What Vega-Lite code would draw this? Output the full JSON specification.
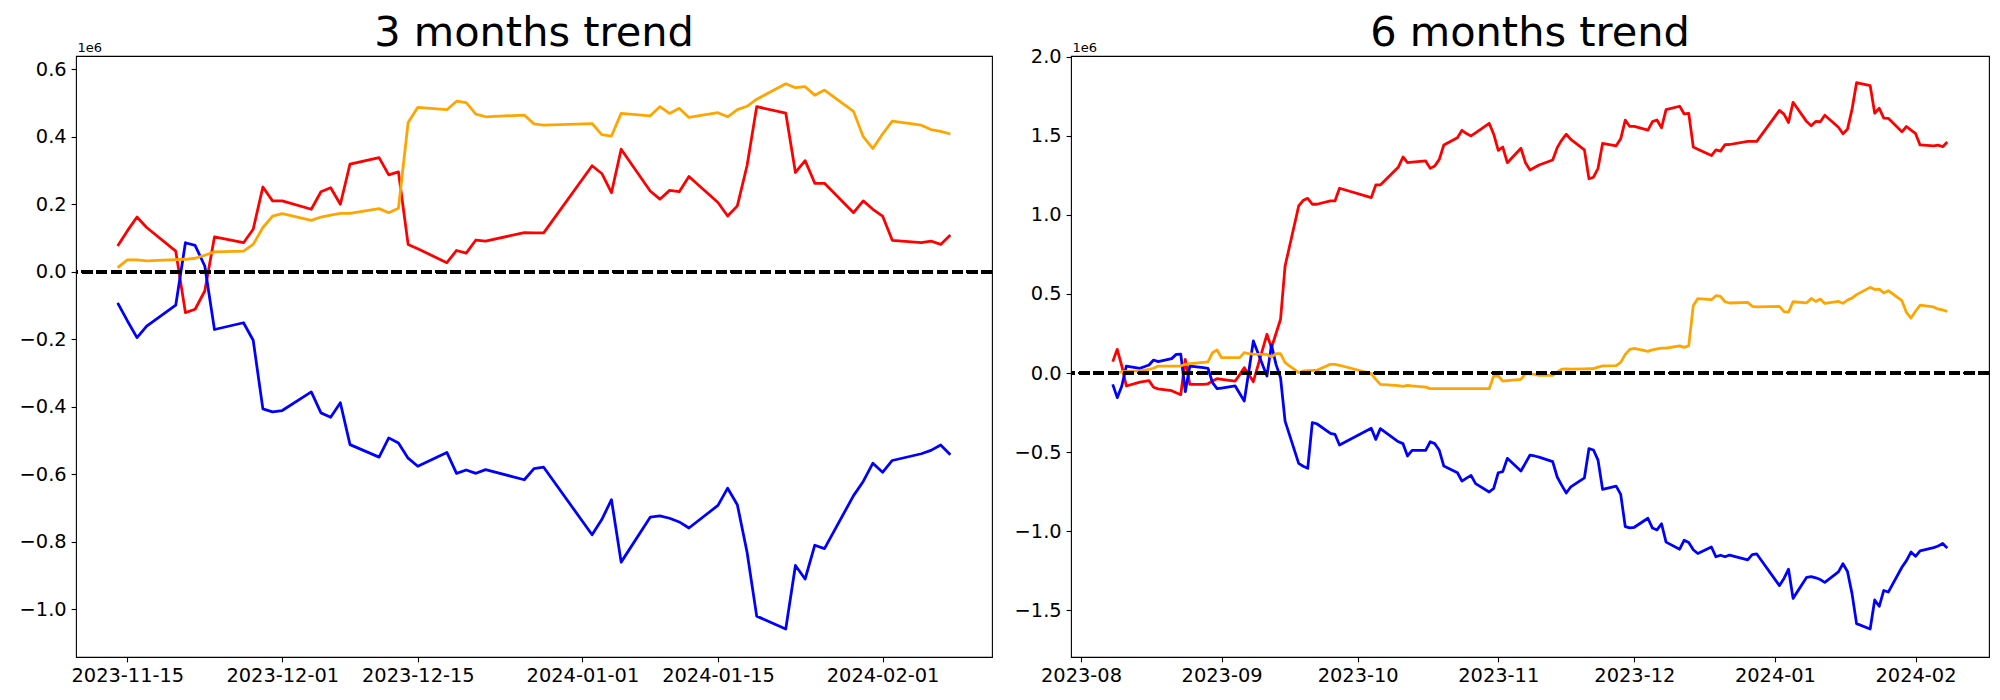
{
"$schema": "https://vega.github.io/schema/vega-lite/v6.json",
"background": "white",
"padding": {"left": 18, "top": 12, "right": 0, "bottom": 0},
"spacing": 19,
"config": {
 "view": {"stroke": "black", "strokeWidth": 1.1},
 "font": "DejaVu Sans",
 "axis": {"domain": false, "grid": false, "tickColor": "black", "tickWidth": 1.1, "tickSize": 4.9, "labelFont": "DejaVu Sans", "labelFontSize": 19.4, "labelColor": "black", "labelPadding": 4.9, "labelFlush": false, "labelOverlap": false, "labelBound": false},
 "title": {"font": "DejaVu Sans", "fontSize": 41.5, "fontWeight": "normal", "color": "black", "anchor": "middle", "frame": "group", "baseline": "alphabetic", "offset": -13}
},
"datasets": {
"m3": [
{"date":"2023-11-14","series":"red","value":76000},{"date":"2023-11-15","series":"red","value":121000},{"date":"2023-11-16","series":"red","value":162000},{"date":"2023-11-17","series":"red","value":131000},{"date":"2023-11-20","series":"red","value":61000},{"date":"2023-11-21","series":"red","value":-121000},{"date":"2023-11-22","series":"red","value":-111000},{"date":"2023-11-23","series":"red","value":-57000},{"date":"2023-11-24","series":"red","value":103000},{"date":"2023-11-27","series":"red","value":86000},{"date":"2023-11-28","series":"red","value":126000},{"date":"2023-11-29","series":"red","value":251000},{"date":"2023-11-30","series":"red","value":210000},{"date":"2023-12-01","series":"red","value":210000},{"date":"2023-12-04","series":"red","value":185000},{"date":"2023-12-05","series":"red","value":237000},{"date":"2023-12-06","series":"red","value":249000},{"date":"2023-12-07","series":"red","value":200000},{"date":"2023-12-08","series":"red","value":319000},{"date":"2023-12-11","series":"red","value":338000},{"date":"2023-12-12","series":"red","value":287000},{"date":"2023-12-13","series":"red","value":296000},{"date":"2023-12-14","series":"red","value":81000},{"date":"2023-12-15","series":"red","value":68000},{"date":"2023-12-18","series":"red","value":27000},{"date":"2023-12-19","series":"red","value":63000},{"date":"2023-12-20","series":"red","value":55000},{"date":"2023-12-21","series":"red","value":94000},{"date":"2023-12-22","series":"red","value":91000},{"date":"2023-12-26","series":"red","value":116000},{"date":"2023-12-27","series":"red","value":115000},{"date":"2023-12-28","series":"red","value":115000},{"date":"2024-01-02","series":"red","value":314000},{"date":"2024-01-03","series":"red","value":291000},{"date":"2024-01-04","series":"red","value":234000},{"date":"2024-01-05","series":"red","value":363000},{"date":"2024-01-08","series":"red","value":239000},{"date":"2024-01-09","series":"red","value":215000},{"date":"2024-01-10","series":"red","value":241000},{"date":"2024-01-11","series":"red","value":237000},{"date":"2024-01-12","series":"red","value":282000},{"date":"2024-01-15","series":"red","value":205000},{"date":"2024-01-16","series":"red","value":165000},{"date":"2024-01-17","series":"red","value":195000},{"date":"2024-01-18","series":"red","value":314000},{"date":"2024-01-19","series":"red","value":489000},{"date":"2024-01-22","series":"red","value":470000},{"date":"2024-01-23","series":"red","value":294000},{"date":"2024-01-24","series":"red","value":329000},{"date":"2024-01-25","series":"red","value":262000},{"date":"2024-01-26","series":"red","value":262000},{"date":"2024-01-29","series":"red","value":175000},{"date":"2024-01-30","series":"red","value":210000},{"date":"2024-01-31","series":"red","value":185000},{"date":"2024-02-01","series":"red","value":165000},{"date":"2024-02-02","series":"red","value":93000},{"date":"2024-02-05","series":"red","value":86000},{"date":"2024-02-06","series":"red","value":91000},{"date":"2024-02-07","series":"red","value":81000},{"date":"2024-02-08","series":"red","value":109000},
{"date":"2023-11-14","series":"blue","value":-92000},{"date":"2023-11-15","series":"blue","value":-145000},{"date":"2023-11-16","series":"blue","value":-195000},{"date":"2023-11-17","series":"blue","value":-161000},{"date":"2023-11-20","series":"blue","value":-99000},{"date":"2023-11-21","series":"blue","value":86000},{"date":"2023-11-22","series":"blue","value":78000},{"date":"2023-11-23","series":"blue","value":17000},{"date":"2023-11-24","series":"blue","value":-171000},{"date":"2023-11-27","series":"blue","value":-151000},{"date":"2023-11-28","series":"blue","value":-203000},{"date":"2023-11-29","series":"blue","value":-406000},{"date":"2023-11-30","series":"blue","value":-415000},{"date":"2023-12-01","series":"blue","value":-411000},{"date":"2023-12-04","series":"blue","value":-356000},{"date":"2023-12-05","series":"blue","value":-418000},{"date":"2023-12-06","series":"blue","value":-431000},{"date":"2023-12-07","series":"blue","value":-388000},{"date":"2023-12-08","series":"blue","value":-512000},{"date":"2023-12-11","series":"blue","value":-549000},{"date":"2023-12-12","series":"blue","value":-492000},{"date":"2023-12-13","series":"blue","value":-507000},{"date":"2023-12-14","series":"blue","value":-552000},{"date":"2023-12-15","series":"blue","value":-576000},{"date":"2023-12-18","series":"blue","value":-535000},{"date":"2023-12-19","series":"blue","value":-597000},{"date":"2023-12-20","series":"blue","value":-587000},{"date":"2023-12-21","series":"blue","value":-597000},{"date":"2023-12-22","series":"blue","value":-586000},{"date":"2023-12-26","series":"blue","value":-616000},{"date":"2023-12-27","series":"blue","value":-583000},{"date":"2023-12-28","series":"blue","value":-579000},{"date":"2024-01-02","series":"blue","value":-779000},{"date":"2024-01-03","series":"blue","value":-734000},{"date":"2024-01-04","series":"blue","value":-675000},{"date":"2024-01-05","series":"blue","value":-860000},{"date":"2024-01-08","series":"blue","value":-727000},{"date":"2024-01-09","series":"blue","value":-723000},{"date":"2024-01-10","series":"blue","value":-730000},{"date":"2024-01-11","series":"blue","value":-741000},{"date":"2024-01-12","series":"blue","value":-759000},{"date":"2024-01-15","series":"blue","value":-692000},{"date":"2024-01-16","series":"blue","value":-641000},{"date":"2024-01-17","series":"blue","value":-690000},{"date":"2024-01-18","series":"blue","value":-830000},{"date":"2024-01-19","series":"blue","value":-1020000},{"date":"2024-01-22","series":"blue","value":-1058000},{"date":"2024-01-23","series":"blue","value":-870000},{"date":"2024-01-24","series":"blue","value":-910000},{"date":"2024-01-25","series":"blue","value":-810000},{"date":"2024-01-26","series":"blue","value":-820000},{"date":"2024-01-29","series":"blue","value":-663000},{"date":"2024-01-30","series":"blue","value":-621000},{"date":"2024-01-31","series":"blue","value":-567000},{"date":"2024-02-01","series":"blue","value":-594000},{"date":"2024-02-02","series":"blue","value":-559000},{"date":"2024-02-05","series":"blue","value":-539000},{"date":"2024-02-06","series":"blue","value":-529000},{"date":"2024-02-07","series":"blue","value":-513000},{"date":"2024-02-08","series":"blue","value":-542000},
{"date":"2023-11-14","series":"orange","value":12000},{"date":"2023-11-15","series":"orange","value":35000},{"date":"2023-11-16","series":"orange","value":35000},{"date":"2023-11-17","series":"orange","value":32000},{"date":"2023-11-20","series":"orange","value":36000},{"date":"2023-11-21","series":"orange","value":37000},{"date":"2023-11-22","series":"orange","value":40000},{"date":"2023-11-23","series":"orange","value":49000},{"date":"2023-11-24","series":"orange","value":59000},{"date":"2023-11-27","series":"orange","value":61000},{"date":"2023-11-28","series":"orange","value":81000},{"date":"2023-11-29","series":"orange","value":131000},{"date":"2023-11-30","series":"orange","value":165000},{"date":"2023-12-01","series":"orange","value":172000},{"date":"2023-12-04","series":"orange","value":152000},{"date":"2023-12-05","series":"orange","value":162000},{"date":"2023-12-06","series":"orange","value":168000},{"date":"2023-12-07","series":"orange","value":173000},{"date":"2023-12-08","series":"orange","value":173000},{"date":"2023-12-11","series":"orange","value":187000},{"date":"2023-12-12","series":"orange","value":175000},{"date":"2023-12-13","series":"orange","value":188000},{"date":"2023-12-14","series":"orange","value":442000},{"date":"2023-12-15","series":"orange","value":487000},{"date":"2023-12-18","series":"orange","value":480000},{"date":"2023-12-19","series":"orange","value":505000},{"date":"2023-12-20","series":"orange","value":501000},{"date":"2023-12-21","series":"orange","value":467000},{"date":"2023-12-22","series":"orange","value":459000},{"date":"2023-12-26","series":"orange","value":464000},{"date":"2023-12-27","series":"orange","value":438000},{"date":"2023-12-28","series":"orange","value":434000},{"date":"2024-01-02","series":"orange","value":439000},{"date":"2024-01-03","series":"orange","value":406000},{"date":"2024-01-04","series":"orange","value":402000},{"date":"2024-01-05","series":"orange","value":469000},{"date":"2024-01-08","series":"orange","value":462000},{"date":"2024-01-09","series":"orange","value":489000},{"date":"2024-01-10","series":"orange","value":469000},{"date":"2024-01-11","series":"orange","value":484000},{"date":"2024-01-12","series":"orange","value":457000},{"date":"2024-01-15","series":"orange","value":471000},{"date":"2024-01-16","series":"orange","value":459000},{"date":"2024-01-17","series":"orange","value":480000},{"date":"2024-01-18","series":"orange","value":490000},{"date":"2024-01-19","series":"orange","value":511000},{"date":"2024-01-22","series":"orange","value":557000},{"date":"2024-01-23","series":"orange","value":545000},{"date":"2024-01-24","series":"orange","value":548000},{"date":"2024-01-25","series":"orange","value":523000},{"date":"2024-01-26","series":"orange","value":538000},{"date":"2024-01-29","series":"orange","value":475000},{"date":"2024-01-30","series":"orange","value":400000},{"date":"2024-01-31","series":"orange","value":365000},{"date":"2024-02-01","series":"orange","value":408000},{"date":"2024-02-02","series":"orange","value":446000},{"date":"2024-02-05","series":"orange","value":434000},{"date":"2024-02-06","series":"orange","value":421000},{"date":"2024-02-07","series":"orange","value":416000},{"date":"2024-02-08","series":"orange","value":408000}
],
"m6": [
{"date":"2023-08-08","series":"red","value":72000},{"date":"2023-08-09","series":"red","value":150000},{"date":"2023-08-10","series":"red","value":44000},{"date":"2023-08-11","series":"red","value":-82000},{"date":"2023-08-14","series":"red","value":-58000},{"date":"2023-08-16","series":"red","value":-48000},{"date":"2023-08-17","series":"red","value":-90000},{"date":"2023-08-18","series":"red","value":-100000},{"date":"2023-08-21","series":"red","value":-112000},{"date":"2023-08-22","series":"red","value":-125000},{"date":"2023-08-23","series":"red","value":-137000},{"date":"2023-08-24","series":"red","value":86000},{"date":"2023-08-25","series":"red","value":-72000},{"date":"2023-08-28","series":"red","value":-72000},{"date":"2023-08-29","series":"red","value":-68000},{"date":"2023-08-30","series":"red","value":-50000},{"date":"2023-08-31","series":"red","value":-36000},{"date":"2023-09-01","series":"red","value":-40000},{"date":"2023-09-04","series":"red","value":-51000},{"date":"2023-09-05","series":"red","value":-10000},{"date":"2023-09-06","series":"red","value":34000},{"date":"2023-09-07","series":"red","value":-10000},{"date":"2023-09-08","series":"red","value":-55000},{"date":"2023-09-11","series":"red","value":245000},{"date":"2023-09-12","series":"red","value":160000},{"date":"2023-09-13","series":"red","value":250000},{"date":"2023-09-14","series":"red","value":340000},{"date":"2023-09-15","series":"red","value":677000},{"date":"2023-09-18","series":"red","value":1057000},{"date":"2023-09-19","series":"red","value":1093000},{"date":"2023-09-20","series":"red","value":1105000},{"date":"2023-09-21","series":"red","value":1068000},{"date":"2023-09-22","series":"red","value":1068000},{"date":"2023-09-25","series":"red","value":1089000},{"date":"2023-09-26","series":"red","value":1089000},{"date":"2023-09-27","series":"red","value":1169000},{"date":"2023-10-04","series":"red","value":1110000},{"date":"2023-10-05","series":"red","value":1190000},{"date":"2023-10-06","series":"red","value":1190000},{"date":"2023-10-10","series":"red","value":1304000},{"date":"2023-10-11","series":"red","value":1367000},{"date":"2023-10-12","series":"red","value":1331000},{"date":"2023-10-13","series":"red","value":1335000},{"date":"2023-10-16","series":"red","value":1342000},{"date":"2023-10-17","series":"red","value":1295000},{"date":"2023-10-18","series":"red","value":1310000},{"date":"2023-10-19","series":"red","value":1352000},{"date":"2023-10-20","series":"red","value":1443000},{"date":"2023-10-23","series":"red","value":1489000},{"date":"2023-10-24","series":"red","value":1536000},{"date":"2023-10-25","series":"red","value":1515000},{"date":"2023-10-26","series":"red","value":1500000},{"date":"2023-10-27","series":"red","value":1520000},{"date":"2023-10-30","series":"red","value":1580000},{"date":"2023-10-31","series":"red","value":1511000},{"date":"2023-11-01","series":"red","value":1409000},{"date":"2023-11-02","series":"red","value":1430000},{"date":"2023-11-03","series":"red","value":1331000},{"date":"2023-11-06","series":"red","value":1422000},{"date":"2023-11-07","series":"red","value":1331000},{"date":"2023-11-08","series":"red","value":1285000},{"date":"2023-11-09","series":"red","value":1300000},{"date":"2023-11-10","series":"red","value":1316000},{"date":"2023-11-13","series":"red","value":1348000},{"date":"2023-11-14","series":"red","value":1426000},{"date":"2023-11-15","series":"red","value":1474000},{"date":"2023-11-16","series":"red","value":1511000},{"date":"2023-11-17","series":"red","value":1478000},{"date":"2023-11-20","series":"red","value":1412000},{"date":"2023-11-21","series":"red","value":1229000},{"date":"2023-11-22","series":"red","value":1239000},{"date":"2023-11-23","series":"red","value":1295000},{"date":"2023-11-24","series":"red","value":1453000},{"date":"2023-11-27","series":"red","value":1438000},{"date":"2023-11-28","series":"red","value":1482000},{"date":"2023-11-29","series":"red","value":1600000},{"date":"2023-11-30","series":"red","value":1560000},{"date":"2023-12-01","series":"red","value":1561000},{"date":"2023-12-04","series":"red","value":1537000},{"date":"2023-12-05","series":"red","value":1591000},{"date":"2023-12-06","series":"red","value":1601000},{"date":"2023-12-07","series":"red","value":1552000},{"date":"2023-12-08","series":"red","value":1667000},{"date":"2023-12-11","series":"red","value":1688000},{"date":"2023-12-12","series":"red","value":1639000},{"date":"2023-12-13","series":"red","value":1643000},{"date":"2023-12-14","series":"red","value":1430000},{"date":"2023-12-15","series":"red","value":1416000},{"date":"2023-12-18","series":"red","value":1376000},{"date":"2023-12-19","series":"red","value":1412000},{"date":"2023-12-20","series":"red","value":1404000},{"date":"2023-12-21","series":"red","value":1445000},{"date":"2023-12-22","series":"red","value":1446000},{"date":"2023-12-26","series":"red","value":1466000},{"date":"2023-12-27","series":"red","value":1466000},{"date":"2023-12-28","series":"red","value":1466000},{"date":"2024-01-02","series":"red","value":1662000},{"date":"2024-01-03","series":"red","value":1638000},{"date":"2024-01-04","series":"red","value":1585000},{"date":"2024-01-05","series":"red","value":1713000},{"date":"2024-01-08","series":"red","value":1591000},{"date":"2024-01-09","series":"red","value":1565000},{"date":"2024-01-10","series":"red","value":1592000},{"date":"2024-01-11","series":"red","value":1590000},{"date":"2024-01-12","series":"red","value":1631000},{"date":"2024-01-15","series":"red","value":1555000},{"date":"2024-01-16","series":"red","value":1514000},{"date":"2024-01-17","series":"red","value":1543000},{"date":"2024-01-18","series":"red","value":1668000},{"date":"2024-01-19","series":"red","value":1837000},{"date":"2024-01-22","series":"red","value":1819000},{"date":"2024-01-23","series":"red","value":1644000},{"date":"2024-01-24","series":"red","value":1675000},{"date":"2024-01-25","series":"red","value":1613000},{"date":"2024-01-26","series":"red","value":1612000},{"date":"2024-01-29","series":"red","value":1526000},{"date":"2024-01-30","series":"red","value":1560000},{"date":"2024-01-31","series":"red","value":1537000},{"date":"2024-02-01","series":"red","value":1516000},{"date":"2024-02-02","series":"red","value":1443000},{"date":"2024-02-05","series":"red","value":1437000},{"date":"2024-02-06","series":"red","value":1442000},{"date":"2024-02-07","series":"red","value":1432000},{"date":"2024-02-08","series":"red","value":1462000},
{"date":"2023-08-08","series":"blue","value":-72000},{"date":"2023-08-09","series":"blue","value":-156000},{"date":"2023-08-10","series":"blue","value":-82000},{"date":"2023-08-11","series":"blue","value":44000},{"date":"2023-08-14","series":"blue","value":30000},{"date":"2023-08-16","series":"blue","value":51000},{"date":"2023-08-17","series":"blue","value":82000},{"date":"2023-08-18","series":"blue","value":72000},{"date":"2023-08-21","series":"blue","value":91000},{"date":"2023-08-22","series":"blue","value":118000},{"date":"2023-08-23","series":"blue","value":120000},{"date":"2023-08-24","series":"blue","value":-118000},{"date":"2023-08-25","series":"blue","value":44000},{"date":"2023-08-28","series":"blue","value":34000},{"date":"2023-08-29","series":"blue","value":30000},{"date":"2023-08-30","series":"blue","value":-61000},{"date":"2023-08-31","series":"blue","value":-99000},{"date":"2023-09-01","series":"blue","value":-95000},{"date":"2023-09-04","series":"blue","value":-82000},{"date":"2023-09-05","series":"blue","value":-130000},{"date":"2023-09-06","series":"blue","value":-177000},{"date":"2023-09-07","series":"blue","value":10000},{"date":"2023-09-08","series":"blue","value":203000},{"date":"2023-09-11","series":"blue","value":-19000},{"date":"2023-09-12","series":"blue","value":177000},{"date":"2023-09-13","series":"blue","value":55000},{"date":"2023-09-14","series":"blue","value":-30000},{"date":"2023-09-15","series":"blue","value":-304000},{"date":"2023-09-18","series":"blue","value":-572000},{"date":"2023-09-19","series":"blue","value":-590000},{"date":"2023-09-20","series":"blue","value":-603000},{"date":"2023-09-21","series":"blue","value":-314000},{"date":"2023-09-22","series":"blue","value":-321000},{"date":"2023-09-25","series":"blue","value":-382000},{"date":"2023-09-26","series":"blue","value":-388000},{"date":"2023-09-27","series":"blue","value":-456000},{"date":"2023-10-04","series":"blue","value":-350000},{"date":"2023-10-05","series":"blue","value":-420000},{"date":"2023-10-06","series":"blue","value":-352000},{"date":"2023-10-10","series":"blue","value":-435000},{"date":"2023-10-11","series":"blue","value":-447000},{"date":"2023-10-12","series":"blue","value":-525000},{"date":"2023-10-13","series":"blue","value":-489000},{"date":"2023-10-16","series":"blue","value":-489000},{"date":"2023-10-17","series":"blue","value":-435000},{"date":"2023-10-18","series":"blue","value":-447000},{"date":"2023-10-19","series":"blue","value":-489000},{"date":"2023-10-20","series":"blue","value":-589000},{"date":"2023-10-23","series":"blue","value":-631000},{"date":"2023-10-24","series":"blue","value":-684000},{"date":"2023-10-25","series":"blue","value":-665000},{"date":"2023-10-26","series":"blue","value":-648000},{"date":"2023-10-27","series":"blue","value":-700000},{"date":"2023-10-30","series":"blue","value":-753000},{"date":"2023-10-31","series":"blue","value":-730000},{"date":"2023-11-01","series":"blue","value":-631000},{"date":"2023-11-02","series":"blue","value":-624000},{"date":"2023-11-03","series":"blue","value":-540000},{"date":"2023-11-06","series":"blue","value":-620000},{"date":"2023-11-07","series":"blue","value":-570000},{"date":"2023-11-08","series":"blue","value":-519000},{"date":"2023-11-09","series":"blue","value":-525000},{"date":"2023-11-10","series":"blue","value":-532000},{"date":"2023-11-13","series":"blue","value":-561000},{"date":"2023-11-14","series":"blue","value":-658000},{"date":"2023-11-15","series":"blue","value":-711000},{"date":"2023-11-16","series":"blue","value":-759000},{"date":"2023-11-17","series":"blue","value":-720000},{"date":"2023-11-20","series":"blue","value":-663000},{"date":"2023-11-21","series":"blue","value":-478000},{"date":"2023-11-22","series":"blue","value":-487000},{"date":"2023-11-23","series":"blue","value":-551000},{"date":"2023-11-24","series":"blue","value":-736000},{"date":"2023-11-27","series":"blue","value":-716000},{"date":"2023-11-28","series":"blue","value":-768000},{"date":"2023-11-29","series":"blue","value":-972000},{"date":"2023-11-30","series":"blue","value":-980000},{"date":"2023-12-01","series":"blue","value":-976000},{"date":"2023-12-04","series":"blue","value":-919000},{"date":"2023-12-05","series":"blue","value":-981000},{"date":"2023-12-06","series":"blue","value":-993000},{"date":"2023-12-07","series":"blue","value":-954000},{"date":"2023-12-08","series":"blue","value":-1070000},{"date":"2023-12-11","series":"blue","value":-1115000},{"date":"2023-12-12","series":"blue","value":-1058000},{"date":"2023-12-13","series":"blue","value":-1073000},{"date":"2023-12-14","series":"blue","value":-1118000},{"date":"2023-12-15","series":"blue","value":-1142000},{"date":"2023-12-18","series":"blue","value":-1101000},{"date":"2023-12-19","series":"blue","value":-1163000},{"date":"2023-12-20","series":"blue","value":-1153000},{"date":"2023-12-21","series":"blue","value":-1163000},{"date":"2023-12-22","series":"blue","value":-1152000},{"date":"2023-12-26","series":"blue","value":-1182000},{"date":"2023-12-27","series":"blue","value":-1149000},{"date":"2023-12-28","series":"blue","value":-1145000},{"date":"2024-01-02","series":"blue","value":-1345000},{"date":"2024-01-03","series":"blue","value":-1300000},{"date":"2024-01-04","series":"blue","value":-1241000},{"date":"2024-01-05","series":"blue","value":-1426000},{"date":"2024-01-08","series":"blue","value":-1293000},{"date":"2024-01-09","series":"blue","value":-1289000},{"date":"2024-01-10","series":"blue","value":-1296000},{"date":"2024-01-11","series":"blue","value":-1307000},{"date":"2024-01-12","series":"blue","value":-1325000},{"date":"2024-01-15","series":"blue","value":-1258000},{"date":"2024-01-16","series":"blue","value":-1207000},{"date":"2024-01-17","series":"blue","value":-1256000},{"date":"2024-01-18","series":"blue","value":-1396000},{"date":"2024-01-19","series":"blue","value":-1586000},{"date":"2024-01-22","series":"blue","value":-1620000},{"date":"2024-01-23","series":"blue","value":-1436000},{"date":"2024-01-24","series":"blue","value":-1476000},{"date":"2024-01-25","series":"blue","value":-1376000},{"date":"2024-01-26","series":"blue","value":-1386000},{"date":"2024-01-29","series":"blue","value":-1229000},{"date":"2024-01-30","series":"blue","value":-1187000},{"date":"2024-01-31","series":"blue","value":-1133000},{"date":"2024-02-01","series":"blue","value":-1160000},{"date":"2024-02-02","series":"blue","value":-1125000},{"date":"2024-02-05","series":"blue","value":-1105000},{"date":"2024-02-06","series":"blue","value":-1095000},{"date":"2024-02-07","series":"blue","value":-1079000},{"date":"2024-02-08","series":"blue","value":-1108000},
{"date":"2023-08-08","series":"orange","value":-4000},{"date":"2023-08-09","series":"orange","value":0},{"date":"2023-08-10","series":"orange","value":8000},{"date":"2023-08-11","series":"orange","value":10000},{"date":"2023-08-14","series":"orange","value":13000},{"date":"2023-08-16","series":"orange","value":23000},{"date":"2023-08-17","series":"orange","value":30000},{"date":"2023-08-18","series":"orange","value":44000},{"date":"2023-08-21","series":"orange","value":44000},{"date":"2023-08-22","series":"orange","value":44000},{"date":"2023-08-23","series":"orange","value":44000},{"date":"2023-08-24","series":"orange","value":55000},{"date":"2023-08-25","series":"orange","value":60000},{"date":"2023-08-28","series":"orange","value":68000},{"date":"2023-08-29","series":"orange","value":70000},{"date":"2023-08-30","series":"orange","value":129000},{"date":"2023-08-31","series":"orange","value":146000},{"date":"2023-09-01","series":"orange","value":97000},{"date":"2023-09-04","series":"orange","value":97000},{"date":"2023-09-05","series":"orange","value":97000},{"date":"2023-09-06","series":"orange","value":129000},{"date":"2023-09-07","series":"orange","value":122000},{"date":"2023-09-08","series":"orange","value":120000},{"date":"2023-09-11","series":"orange","value":118000},{"date":"2023-09-12","series":"orange","value":101000},{"date":"2023-09-13","series":"orange","value":122000},{"date":"2023-09-14","series":"orange","value":122000},{"date":"2023-09-15","series":"orange","value":65000},{"date":"2023-09-18","series":"orange","value":2000},{"date":"2023-09-19","series":"orange","value":13000},{"date":"2023-09-20","series":"orange","value":15000},{"date":"2023-09-21","series":"orange","value":16000},{"date":"2023-09-22","series":"orange","value":17000},{"date":"2023-09-25","series":"orange","value":55000},{"date":"2023-09-26","series":"orange","value":55000},{"date":"2023-09-27","series":"orange","value":49000},{"date":"2023-10-04","series":"orange","value":-4000},{"date":"2023-10-05","series":"orange","value":-40000},{"date":"2023-10-06","series":"orange","value":-72000},{"date":"2023-10-10","series":"orange","value":-80000},{"date":"2023-10-11","series":"orange","value":-85000},{"date":"2023-10-12","series":"orange","value":-78000},{"date":"2023-10-13","series":"orange","value":-82000},{"date":"2023-10-16","series":"orange","value":-89000},{"date":"2023-10-17","series":"orange","value":-99000},{"date":"2023-10-18","series":"orange","value":-99000},{"date":"2023-10-19","series":"orange","value":-99000},{"date":"2023-10-20","series":"orange","value":-99000},{"date":"2023-10-23","series":"orange","value":-99000},{"date":"2023-10-24","series":"orange","value":-99000},{"date":"2023-10-25","series":"orange","value":-99000},{"date":"2023-10-26","series":"orange","value":-99000},{"date":"2023-10-27","series":"orange","value":-99000},{"date":"2023-10-30","series":"orange","value":-99000},{"date":"2023-10-31","series":"orange","value":-19000},{"date":"2023-11-01","series":"orange","value":-19000},{"date":"2023-11-02","series":"orange","value":-51000},{"date":"2023-11-03","series":"orange","value":-48000},{"date":"2023-11-06","series":"orange","value":-40000},{"date":"2023-11-07","series":"orange","value":-4000},{"date":"2023-11-08","series":"orange","value":-6000},{"date":"2023-11-09","series":"orange","value":-8000},{"date":"2023-11-10","series":"orange","value":-15000},{"date":"2023-11-13","series":"orange","value":-15000},{"date":"2023-11-14","series":"orange","value":5000},{"date":"2023-11-15","series":"orange","value":25000},{"date":"2023-11-16","series":"orange","value":26000},{"date":"2023-11-17","series":"orange","value":24000},{"date":"2023-11-20","series":"orange","value":26000},{"date":"2023-11-21","series":"orange","value":27000},{"date":"2023-11-22","series":"orange","value":28000},{"date":"2023-11-23","series":"orange","value":37000},{"date":"2023-11-24","series":"orange","value":45000},{"date":"2023-11-27","series":"orange","value":47000},{"date":"2023-11-28","series":"orange","value":67000},{"date":"2023-11-29","series":"orange","value":118000},{"date":"2023-11-30","series":"orange","value":150000},{"date":"2023-12-01","series":"orange","value":156000},{"date":"2023-12-04","series":"orange","value":137000},{"date":"2023-12-05","series":"orange","value":147000},{"date":"2023-12-06","series":"orange","value":152000},{"date":"2023-12-07","series":"orange","value":157000},{"date":"2023-12-08","series":"orange","value":158000},{"date":"2023-12-11","series":"orange","value":172000},{"date":"2023-12-12","series":"orange","value":162000},{"date":"2023-12-13","series":"orange","value":173000},{"date":"2023-12-14","series":"orange","value":426000},{"date":"2023-12-15","series":"orange","value":471000},{"date":"2023-12-18","series":"orange","value":464000},{"date":"2023-12-19","series":"orange","value":489000},{"date":"2023-12-20","series":"orange","value":485000},{"date":"2023-12-21","series":"orange","value":451000},{"date":"2023-12-22","series":"orange","value":443000},{"date":"2023-12-26","series":"orange","value":447000},{"date":"2023-12-27","series":"orange","value":422000},{"date":"2023-12-28","series":"orange","value":418000},{"date":"2024-01-02","series":"orange","value":422000},{"date":"2024-01-03","series":"orange","value":389000},{"date":"2024-01-04","series":"orange","value":386000},{"date":"2024-01-05","series":"orange","value":451000},{"date":"2024-01-08","series":"orange","value":444000},{"date":"2024-01-09","series":"orange","value":472000},{"date":"2024-01-10","series":"orange","value":453000},{"date":"2024-01-11","series":"orange","value":468000},{"date":"2024-01-12","series":"orange","value":440000},{"date":"2024-01-15","series":"orange","value":453000},{"date":"2024-01-16","series":"orange","value":441000},{"date":"2024-01-17","series":"orange","value":462000},{"date":"2024-01-18","series":"orange","value":474000},{"date":"2024-01-19","series":"orange","value":496000},{"date":"2024-01-22","series":"orange","value":542000},{"date":"2024-01-23","series":"orange","value":528000},{"date":"2024-01-24","series":"orange","value":531000},{"date":"2024-01-25","series":"orange","value":506000},{"date":"2024-01-26","series":"orange","value":521000},{"date":"2024-01-29","series":"orange","value":458000},{"date":"2024-01-30","series":"orange","value":383000},{"date":"2024-01-31","series":"orange","value":348000},{"date":"2024-02-01","series":"orange","value":391000},{"date":"2024-02-02","series":"orange","value":429000},{"date":"2024-02-05","series":"orange","value":418000},{"date":"2024-02-06","series":"orange","value":404000},{"date":"2024-02-07","series":"orange","value":399000},{"date":"2024-02-08","series":"orange","value":390000}
]
},
"hconcat": [
{
 "title": "3 months trend",
 "width": 916, "height": 601,
 "data": {"name": "m3"},
 "layer": [
  {"mark": {"type": "line", "strokeWidth": 2.78, "strokeJoin": "round"},
   "encoding": {
    "x": {"field": "date", "type": "temporal",
     "scale": {"type": "utc", "domain": [{"year": 2023, "month": 11, "date": 9, "hours": 16, "minutes": 48, "utc": true}, {"year": 2024, "month": 2, "date": 12, "hours": 7, "minutes": 12, "utc": true}]},
     "axis": {"title": null, "labelExpr": "utcFormat(datum.value, '%Y-%m-%d')",
      "values": [{"year": 2023, "month": 11, "date": 15, "utc": true}, {"year": 2023, "month": 12, "date": 1, "utc": true}, {"year": 2023, "month": 12, "date": 15, "utc": true}, {"year": 2024, "month": 1, "date": 1, "utc": true}, {"year": 2024, "month": 1, "date": 15, "utc": true}, {"year": 2024, "month": 2, "date": 1, "utc": true}]}},
    "y": {"field": "value", "type": "quantitative",
     "scale": {"domain": [-1141000, 639000], "nice": false, "zero": false},
     "axis": {"title": "1e6", "titleAngle": 0, "titleAlign": "left", "titleBaseline": "alphabetic", "titleX": 1, "titleY": -4.3, "titleFontSize": 13, "titleFontWeight": "normal", "titleFont": "DejaVu Sans", "titleColor": "black",
      "values": [-1000000, -800000, -600000, -400000, -200000, 0, 200000, 400000, 600000],
      "labelExpr": "format(datum.value / 1000000, '.1f')"}},
    "color": {"field": "series", "type": "nominal", "sort": null,
     "scale": {"domain": ["red", "blue", "orange"], "range": ["#ff0000", "#0000ff", "#ffa500"]}, "legend": null}
   }},
  {"mark": {"type": "rule", "color": "black", "strokeWidth": 2.78, "strokeDash": [10.3, 4.45]},
   "encoding": {"y": {"datum": 0}}}
 ]
},
{
 "title": "6 months trend",
 "width": 918, "height": 601,
 "data": {"name": "m6"},
 "layer": [
  {"mark": {"type": "line", "strokeWidth": 2.78, "strokeJoin": "round"},
   "encoding": {
    "x": {"field": "date", "type": "temporal",
     "scale": {"type": "utc", "domain": [{"year": 2023, "month": 7, "date": 29, "hours": 19, "minutes": 12, "utc": true}, {"year": 2024, "month": 2, "date": 17, "hours": 4, "minutes": 48, "utc": true}]},
     "axis": {"title": null, "labelExpr": "utcFormat(datum.value, '%Y-%m')",
      "values": [{"year": 2023, "month": 8, "date": 1, "utc": true}, {"year": 2023, "month": 9, "date": 1, "utc": true}, {"year": 2023, "month": 10, "date": 1, "utc": true}, {"year": 2023, "month": 11, "date": 1, "utc": true}, {"year": 2023, "month": 12, "date": 1, "utc": true}, {"year": 2024, "month": 1, "date": 1, "utc": true}, {"year": 2024, "month": 2, "date": 1, "utc": true}]}},
    "y": {"field": "value", "type": "quantitative",
     "scale": {"domain": [-1797000, 2006000], "nice": false, "zero": false},
     "axis": {"title": "1e6", "titleAngle": 0, "titleAlign": "left", "titleBaseline": "alphabetic", "titleX": 1, "titleY": -4.3, "titleFontSize": 13, "titleFontWeight": "normal", "titleFont": "DejaVu Sans", "titleColor": "black",
      "values": [-1500000, -1000000, -500000, 0, 500000, 1000000, 1500000, 2000000],
      "labelExpr": "format(datum.value / 1000000, '.1f')"}},
    "color": {"field": "series", "type": "nominal", "sort": null,
     "scale": {"domain": ["red", "blue", "orange"], "range": ["#ff0000", "#0000ff", "#ffa500"]}, "legend": null}
   }},
  {"mark": {"type": "rule", "color": "black", "strokeWidth": 2.78, "strokeDash": [10.3, 4.45]},
   "encoding": {"y": {"datum": 0}}}
 ]
}
],
"resolve": {"scale": {"color": "independent"}}
}
